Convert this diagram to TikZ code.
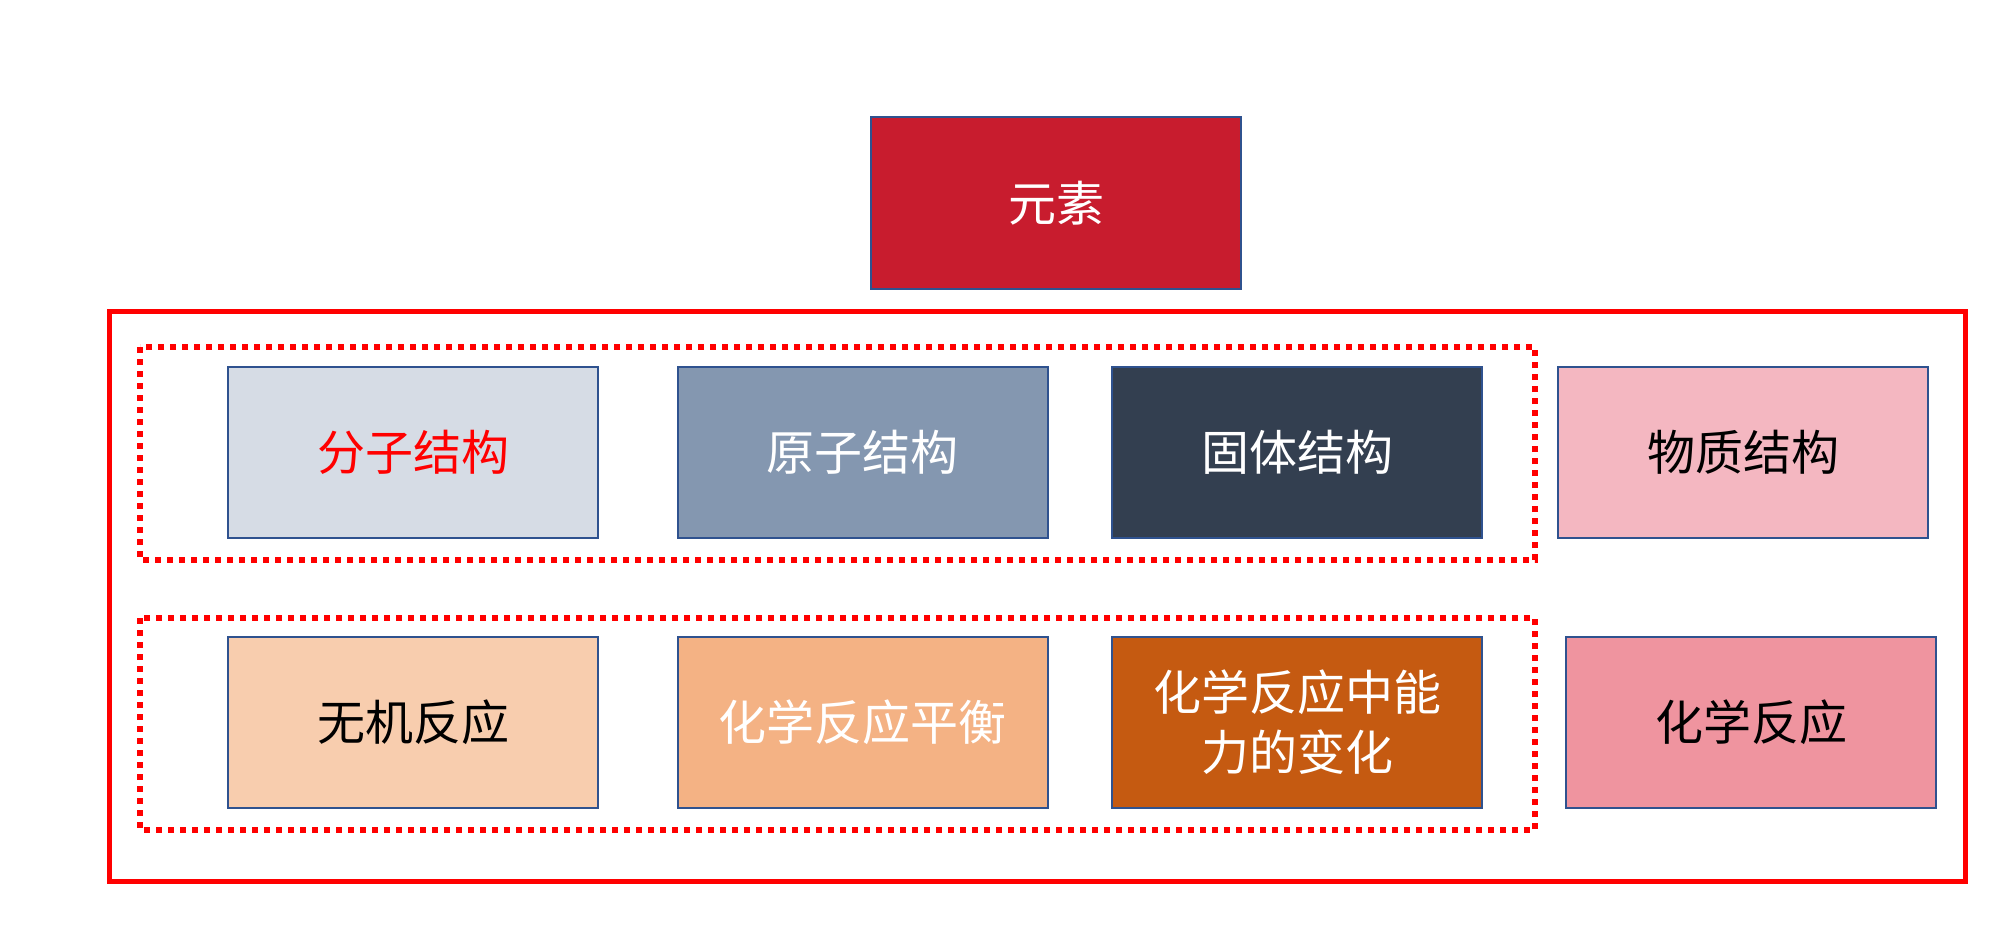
\documentclass[tikz,border=0pt]{standalone}
\usepackage{fontspec}
\setmainfont{Noto Sans CJK SC}
\definecolor{edge}{RGB}{47,82,143}
\definecolor{cYuan}{RGB}{200,28,46}
\definecolor{cFenzi}{RGB}{214,220,229}
\definecolor{cYuanzi}{RGB}{132,151,176}
\definecolor{cGuti}{RGB}{51,63,80}
\definecolor{cWuzhi}{RGB}{244,183,193}
\definecolor{cWuji}{RGB}{248,205,174}
\definecolor{cPingheng}{RGB}{244,178,132}
\definecolor{cNengli}{RGB}{197,90,17}
\definecolor{cHuaxue}{RGB}{239,148,159}
\definecolor{pred}{RGB}{255,0,0}
\tikzset{
  x=0.5pt, y=-0.5pt,
  box/.style={draw=edge, line width=1pt, rectangle, minimum width=185pt, minimum height=85.5pt,
    inner sep=0pt, align=center, font=\fontsize{24}{30}\selectfont},
  group/.style={draw=pred, line width=2.75pt, dash pattern=on 3pt off 3pt},
  frame/.style={draw=pred, line width=2.5pt},
}
\begin{document}
\begin{tikzpicture}
\useasboundingbox (0,0) rectangle (1999,927);
\node[box, fill=cYuan, text=white, minimum height=86pt] (yuansu) at (1056,203) {元素};
\draw[frame] (109,311) rectangle (1965,881);
\draw[group] (140,347) rectangle (1535,560);
\draw[group] (140,618) rectangle (1535,830);
\node[box, fill=cFenzi, text=pred] (fenzi) at (413,452.5) {分子结构};
\node[box, fill=cYuanzi, text=white] (yuanzi) at (862.5,452.5) {原子结构};
\node[box, fill=cGuti, text=white] (guti) at (1297,452.5) {固体结构};
\node[box, fill=cWuzhi, text=black] (wuzhi) at (1743,452.5) {物质结构};
\node[box, fill=cWuji, text=black] (wuji) at (413,722.5) {无机反应};
\node[box, fill=cPingheng, text=white] (pingheng) at (862.5,722.5) {化学反应平衡};
\node[box, fill=cNengli, text=white] (nengli) at (1297,722.5) {化学反应中能\\力的变化};
\node[box, fill=cHuaxue, text=black] (huaxue) at (1751,722.5) {化学反应};
\end{tikzpicture}
\end{document}
